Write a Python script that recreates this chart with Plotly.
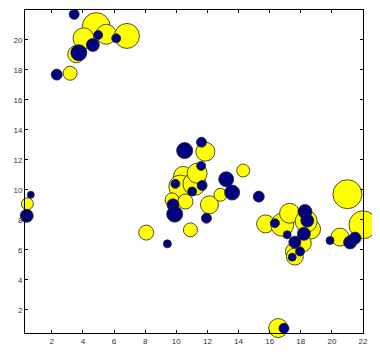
import plotly.graph_objects as go

# yellow bubbles
yel_x = [4.86, 5.50, 6.83, 4.04, 3.57, 3.18,
         10.44, 10.26, 11.17, 11.87, 11.34, 9.73, 10.59, 12.13, 12.84, 14.30, 10.91, 8.07,
         15.74, 16.81, 17.28, 18.63, 18.35, 18.10, 17.56, 17.62, 20.52, 21.00, 22.00,
         0.43, 0.17, 16.55]
yel_y = [20.89, 20.38, 20.27, 20.11, 19.05, 17.78,
         10.93, 10.22, 10.40, 12.55, 11.11, 9.33, 9.22, 9.00, 9.67, 11.29, 7.33, 7.15,
         7.73, 7.67, 8.44, 7.38, 7.90, 6.44, 5.89, 5.55, 6.85, 9.71, 7.67,
         9.07, 8.33, 0.78]
yel_s = [28, 20, 25, 21, 17, 14,
         19, 23, 23, 19, 20, 14, 15, 18, 13, 13, 14, 15,
         18, 23, 20, 20, 22, 18, 17, 17, 18, 29, 28,
         12, 12, 19]

# navy bubbles
nav_x = [3.44, 6.14, 4.98, 4.64, 3.74, 2.32,
         10.54, 11.62, 11.60, 9.94, 11.02, 11.66, 9.79, 9.90, 13.21, 13.59, 15.30, 11.94, 9.43,
         16.34, 18.27, 18.42, 17.13, 18.20, 17.62, 17.95, 17.45, 19.88, 21.17, 21.49,
         0.65, 0.39, 16.92]
nav_y = [21.71, 20.11, 20.33, 19.67, 19.15, 17.69,
         12.62, 13.18, 11.60, 10.40, 9.89, 10.29, 9.00, 8.38, 10.71, 9.82, 9.55, 8.11, 6.40,
         7.78, 8.55, 7.95, 7.00, 7.07, 6.51, 5.89, 5.51, 6.62, 6.49, 6.78,
         9.67, 8.27, 0.76]
nav_s = [10, 9, 9, 13, 16, 11,
         16, 10, 9, 9, 9, 10, 12, 16, 15, 15, 11, 10, 8,
         9, 14, 13, 8, 13, 12, 9, 8, 8, 13, 12,
         7, 13, 10]

x_ticks = [2, 4, 6, 8, 10, 12, 14, 16, 18, 20, 22]
y_ticks = [2, 4, 6, 8, 10, 12, 14, 16, 18, 20, 22]

fig = go.Figure()
fig.add_trace(go.Scatter(x=yel_x, y=yel_y, mode="markers", cliponaxis=False,
                         marker=dict(size=yel_s, color="#FFFF00", opacity=1,
                                     line=dict(color="#222222", width=0.8))))
fig.add_trace(go.Scatter(x=nav_x, y=nav_y, mode="markers", cliponaxis=False,
                         marker=dict(size=nav_s, color="#000080", opacity=1,
                                     line=dict(color="#222222", width=0.8))))

axis_common = dict(showgrid=False, zeroline=False, showline=True, linecolor="black",
                   linewidth=1, mirror="ticks", ticks="inside", ticklen=3,
                   tickcolor="black", automargin=False,
                   tickfont=dict(family="Liberation Sans", size=8, color="#333333"))
fig.update_layout(
    width=380, height=356,
    margin=dict(l=17, r=25, t=2, b=31),
    paper_bgcolor="white", plot_bgcolor="white",
    showlegend=False,
    xaxis=dict(range=[0.28, 22], tickvals=x_ticks, ticktext=[str(v) for v in x_ticks], **axis_common),
    yaxis=dict(range=[0.45, 22], tickvals=y_ticks, ticktext=[str(v) for v in y_ticks], **axis_common),
)
fig.write_html("out.html")
